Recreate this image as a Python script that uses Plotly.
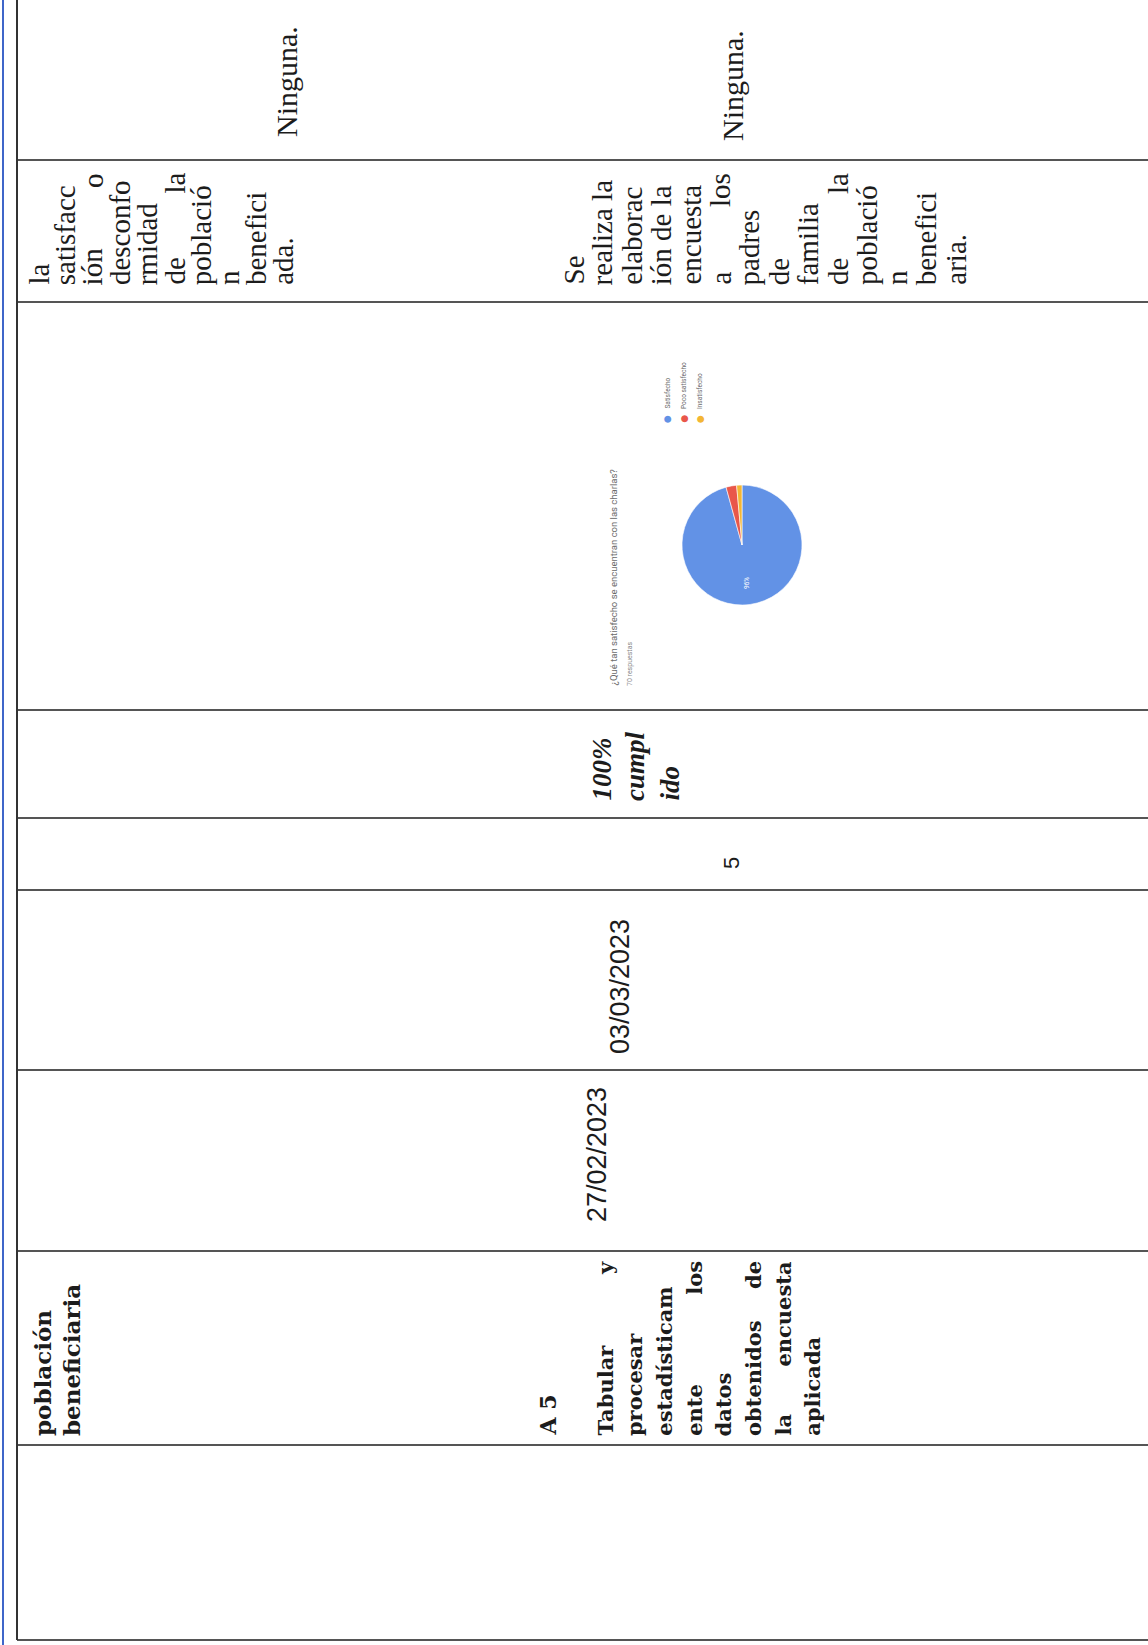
import plotly.graph_objects as go

W, H = 1148, 1645

# ---------------- data ----------------
pie_title = "¿Qué tan satisfecho se encuentran con las charlas?"
pie_subtitle = "70 respuestas"
pie_labels = ["Satisfecho", "Poco satisfecho", "Insatisfecho"]
pie_values = [67, 2, 1]
pie_colors = ["#6292e6", "#e9574a", "#f3b634"]

ninguna_text = "Ninguna."
block1_lines = [["la"], ["satisfacc"], ["ión", "o"], ["desconfo"], ["rmidad"],
                ["de", "la"], ["població"], ["n"], ["benefici"], ["ada."]]
block2_lines = [["Se"], ["realiza la"], ["elaborac"], ["ión de la"], ["encuesta"],
                ["a", "los"], ["padres"], ["de"], ["familia"], ["de", "la"],
                ["població"], ["n"], ["benefici"], ["aria."]]
header_lines = ["población", "beneficiaria"]
activity_code = "A 5"
activity_lines = [["Tabular", "y"], ["procesar"], ["estadísticam"], ["ente", "los"],
                  ["datos"], ["obtenidos", "de"], ["la", "encuesta"], ["aplicada"]]
start_date = "27/02/2023"
end_date = "03/03/2023"
count_value = "5"
status_lines = ["100%", "cumpl", "ido"]

# ---------------- layout constants ----------------
row_lines_y = [160, 302, 710, 818, 890, 1070, 1251, 1445, 1640]
LEFT_X = 17
SERIF = "Liberation Serif"
SLAB = "DejaVu Serif"
SANS = "Liberation Sans"
INK = "#1c1c1c"

fig = go.Figure()

# pie
cx, cy, r = 742, 545, 60
fig.add_trace(go.Pie(
    labels=pie_labels, values=pie_values, sort=False, direction="clockwise", rotation=0,
    marker=dict(colors=pie_colors, line=dict(color="white", width=0.6)),
    textinfo="none", showlegend=False, hoverinfo="skip",
    domain=dict(x=[(cx - r) / W, (cx + r) / W], y=[1 - (cy + r) / H, 1 - (cy - r) / H]),
))

shapes = []
for y in row_lines_y:
    shapes.append(dict(type="line", xref="x", yref="y", x0=LEFT_X, x1=W, y0=y, y1=y,
                       line=dict(color="#555555", width=2)))
shapes.append(dict(type="line", xref="x", yref="y", x0=LEFT_X, x1=LEFT_X, y0=0, y1=1640,
                   line=dict(color="#333333", width=2)))
shapes.append(dict(type="line", xref="x", yref="y", x0=3, x1=3, y0=0, y1=H,
                   line=dict(color="#3f66c9", width=2)))


def vtext(x, y, text, size, family, anchor="bottom", color=INK):
    fig.add_annotation(x=x, y=y, xref="x", yref="y", text=text, textangle=-90,
                       showarrow=False, xanchor="center", yanchor=anchor,
                       font=dict(size=size, family=family, color=color), borderpad=0)


def block(lines, x0, dx, bottom, top, size, family, wrap=lambda s: s):
    for i, words in enumerate(lines):
        x = x0 + i * dx
        vtext(x, bottom, wrap(words[0]), size, family, "bottom")
        if len(words) > 1:
            vtext(x, top, wrap(words[1]), size, family, "top")


# first row cells
vtext(286, 82, ninguna_text, 30, SERIF, "middle")
vtext(732, 86, ninguna_text, 30, SERIF, "middle")

block(block1_lines, 38, 27.2, 286, 172, 29, SERIF)
block(block2_lines, 573, 29.4, 286, 172, 29, SERIF)

# last row
for i, t in enumerate(header_lines):
    vtext(42 + i * 29, 1437, "<b>" + t + "</b>", 23, SLAB, "bottom")
vtext(547, 1437, "<b>" + activity_code + "</b>", 22, SLAB, "bottom")
block(activity_lines, 605, 29.6, 1437, 1260, 21, SLAB, wrap=lambda s: "<b>" + s + "</b>")

# dates, count, status
vtext(597, 1155, start_date, 27, SANS, "middle")
vtext(620, 987, end_date, 27, SANS, "middle")
vtext(731, 863, count_value, 22, SANS, "middle")
for i, t in enumerate(status_lines):
    vtext(601 + i * 34, 802, "<b><i>" + t + "</i></b>", 27, SERIF, "bottom")

# pie title / subtitle / label
vtext(613, 687, pie_title, 9.5, "Roboto", "bottom", "#6b6b6b")
vtext(630, 687, pie_subtitle, 7, "Roboto", "bottom", "#8a8a8a")
pct = pie_values[0] / sum(pie_values)
vtext(747, 583, f"{pct:.0%}", 6.5, "Roboto", "middle", "white")

# legend
for i, (lab, col) in enumerate(zip(pie_labels, pie_colors)):
    lx = 667 + i * 16.5
    vtext(lx, 419, "●", 9, "DejaVu Sans", "middle", col)
    vtext(lx, 410, lab, 6.5, "Roboto", "bottom", "#6b6b6b")

fig.update_layout(
    width=W, height=H, margin=dict(l=0, r=0, t=0, b=0),
    paper_bgcolor="white", plot_bgcolor="white", shapes=shapes,
    xaxis=dict(range=[0, W], visible=False, fixedrange=True),
    yaxis=dict(range=[H, 0], visible=False, fixedrange=True),
)

fig.write_html("out.html", config={"displayModeBar": False},
               post_script="document.body.style.margin='0';document.body.style.overflow='hidden';")
